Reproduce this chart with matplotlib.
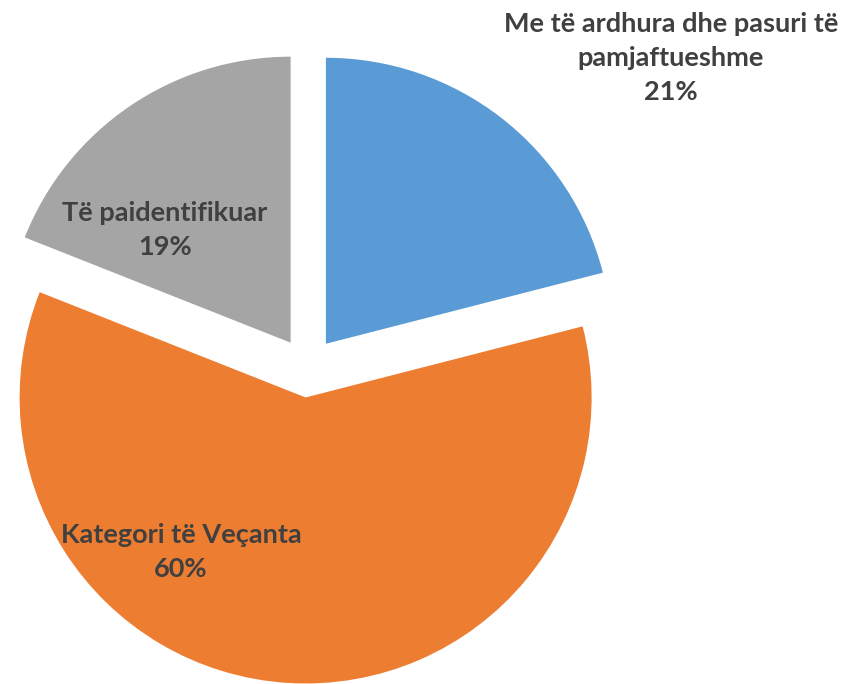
import matplotlib
matplotlib.use("Agg")
import matplotlib.pyplot as plt

# data
labels = ["Me të ardhura dhe pasuri të\npamjaftueshme", "Kategori të Veçanta", "Të paidentifikuar"]
shares = [21, 60, 19]
colors = ["#5B9BD5", "#ED7D31", "#A5A5A5"]

# figure mapped to pixels: pie centre ~(307.5, 367), radius ~286 px
W, H = 850, 684
cx, cy, r = 307.5, 367.5, 286.0

fig = plt.figure(figsize=(W / 100, H / 100), dpi=100)
ax = fig.add_axes([0, 0, 1, 1])
ax.pie(shares, colors=colors, startangle=90, counterclock=False,
       explode=[0.105, 0.105, 0.105], radius=1.0,
       wedgeprops=dict(linewidth=0))
ax.set_xlim(-cx / r, (W - cx) / r)
ax.set_ylim(-(H - cy) / r, cy / r)
ax.set_aspect("equal")
ax.axis("off")

# label positions (pixels)
label_pos = [(671, 58), (181, 552), (165, 230)]
for lab, pct, (px, py) in zip(labels, shares, label_pos):
    ax.text((px - cx) / r, (cy - py) / r, f"{lab}\n{pct}%",
            ha="center", va="center", fontsize=19.5, fontweight="bold",
            family="Lato", color="#404040", linespacing=1.5)

fig.savefig("out.png", dpi=100)
